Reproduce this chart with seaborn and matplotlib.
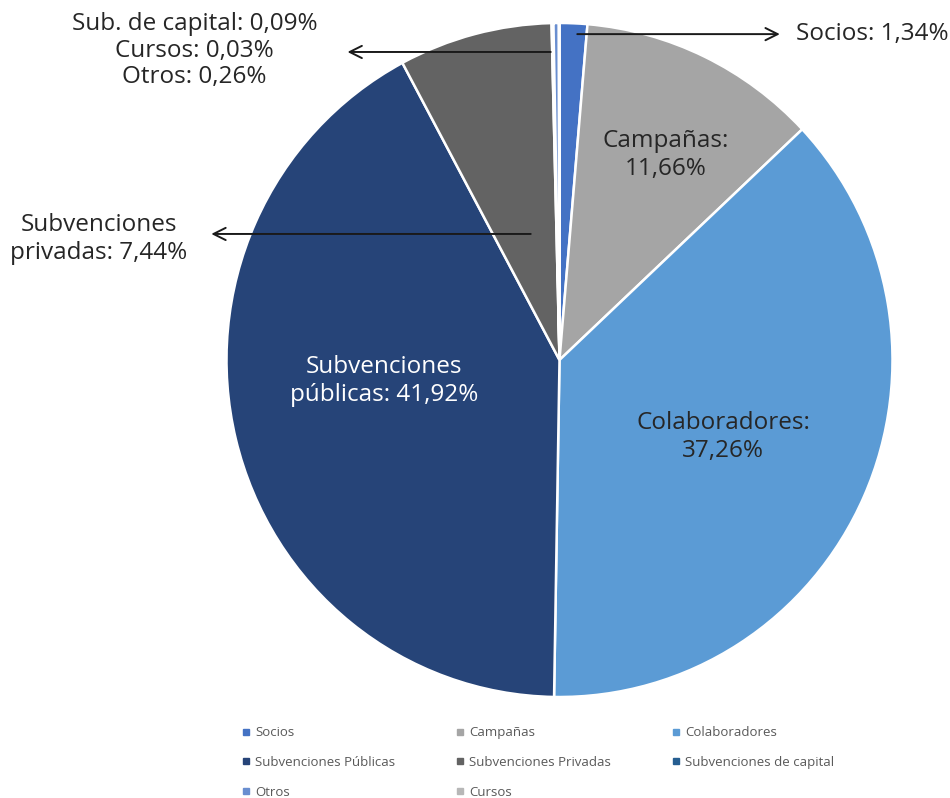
import matplotlib
matplotlib.use('Agg')
import matplotlib.pyplot as plt
from matplotlib.lines import Line2D
import seaborn as sns

# data (clockwise from 12 o'clock)
categories = ['Socios', 'Campañas', 'Colaboradores', 'Subvenciones Públicas',
              'Subvenciones Privadas', 'Subvenciones de capital', 'Otros', 'Cursos']
values = [1.34, 11.66, 37.26, 41.92, 7.44, 0.09, 0.26, 0.03]
colors = ['#4472C4', '#A5A5A5', '#5B9BD5', '#264478',
          '#636363', '#255E91', '#698ED0', '#B7B7B7']

sns.set_style('white')
plt.rcParams['font.family'] = ['Open Sans', 'DejaVu Sans']

W, H = 950, 798
fig = plt.figure(figsize=(W / 100, H / 100), dpi=100)
cx, cy, rx, ry = 559.5, 360, 333, 337
ax = fig.add_axes([(cx - rx) / W, (H - cy - ry) / H, 2 * rx / W, 2 * ry / H])

ax.pie(values, colors=colors, startangle=90, counterclock=False,
       wedgeprops=dict(edgecolor='white', linewidth=1.8))
ax.set_xlim(-1, 1)
ax.set_ylim(-1, 1)
ax.set_aspect('auto')
ax.axis('off')

dark = '#262626'
fs = 17.5

# inside labels
ax.text(0.318, 0.608, 'Campañas:\n11,66%', ha='center', va='center',
        fontsize=fs, color=dark, linespacing=1.2)
ax.text(0.492, -0.228, 'Colaboradores:\n37,26%', ha='center', va='center',
        fontsize=fs, color=dark, linespacing=1.2)
ax.text(-0.527, -0.062, 'Subvenciones\npúblicas: 41,92%', ha='center', va='center',
        fontsize=fs, color='white', linespacing=1.2)

# callouts with arrows
arrow = dict(arrowstyle='->', color='#1a1a1a', lw=1.4, mutation_scale=22)
ax.annotate('', xy=(0.670, 0.967), xytext=(0.045, 0.967), arrowprops=arrow,
            annotation_clip=False)
ax.text(0.940, 0.967, 'Socios: 1,34%', ha='center', va='center',
        fontsize=fs, color=dark, clip_on=False)

ax.annotate('', xy=(-0.645, 0.914), xytext=(-0.018, 0.914), arrowprops=arrow,
            annotation_clip=False)
ax.text(-1.096, 0.918, 'Sub. de capital: 0,09%\nCursos: 0,03%\nOtros: 0,26%',
        ha='center', va='center', fontsize=fs, color=dark, linespacing=1.15,
        clip_on=False)

ax.annotate('', xy=(-1.054, 0.374), xytext=(-0.078, 0.374), arrowprops=arrow,
            annotation_clip=False)
ax.text(-1.384, 0.359, 'Subvenciones\nprivadas: 7,44%', ha='center', va='center',
        fontsize=fs, color=dark, linespacing=1.2, clip_on=False)

# legend, row-major order across 3 columns
handles = [Line2D([0], [0], marker='s', linestyle='', markersize=5,
                  markerfacecolor=c, markeredgecolor=c, label=l)
           for c, l in zip(colors, categories)]
order = [0, 3, 6, 1, 4, 7, 2, 5]
leg = fig.legend([handles[i] for i in order], [categories[i] for i in order],
                 ncol=3, loc='center', bbox_to_anchor=(538 / W, (H - 762.5) / H),
                 frameon=False, fontsize=9.5, handlelength=0.6, handletextpad=0.4,
                 columnspacing=4.6, labelspacing=1.27, borderpad=0)
for t in leg.get_texts():
    t.set_color('#595959')

fig.savefig('out.png', dpi=100)
plt.close(fig)
